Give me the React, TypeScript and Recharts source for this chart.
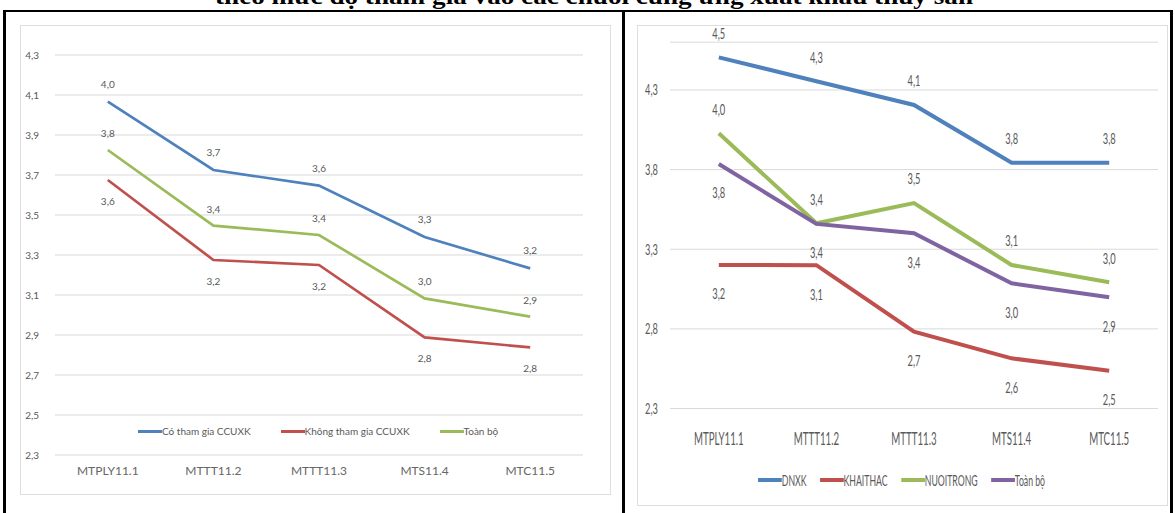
import React from 'react';
import { LineChart, Line, XAxis, YAxis, CartesianGrid, Legend, LabelList } from 'recharts';

// ---------- data ----------
const categories = ['MTPLY11.1', 'MTTT11.2', 'MTTT11.3', 'MTS11.4', 'MTC11.5'];

// Left panel
const leftNames = ['Có tham gia CCUXK', 'Không tham gia CCUXK', 'Toàn bộ'];
const leftParticipating = [4.067, 3.725, 3.647, 3.39, 3.233];
const leftParticipatingLabels = ['4,0', '3,7', '3,6', '3,3', '3,2'];
const leftNonParticipating = [3.675, 3.275, 3.25, 2.888, 2.838];
const leftNonParticipatingLabels = ['3,6', '3,2', '3,2', '2,8', '2,8'];
const leftOverall = [3.825, 3.447, 3.4, 3.083, 2.992];
const leftOverallLabels = ['3,8', '3,4', '3,4', '3,0', '2,9'];
const leftTicks = [2.3, 2.5, 2.7, 2.9, 3.1, 3.3, 3.5, 3.7, 3.9, 4.1, 4.3];

// Right panel
const rightNames = ['DNXK', 'KHAITHAC', 'NUOITRONG', 'Toàn bộ'];
const dnxk = [4.505, 4.355, 4.206, 3.843, 3.843];
const dnxkLabels = ['4,5', '4,3', '4,1', '3,8', '3,8'];
const khaithac = [3.201, 3.2, 2.782, 2.615, 2.537];
const khaithacLabels = ['3,2', '3,1', '2,7', '2,6', '2,5'];
const nuoitrong = [4.028, 3.463, 3.59, 3.201, 3.093];
const nuoitrongLabels = ['4,0', '3,4', '3,5', '3,1', '3,0'];
const rightOverall = [3.835, 3.459, 3.4, 3.086, 2.998];
const rightOverallLabels = ['3,8', '3,4', '3,4', '3,0', '2,9'];
const rightTicks = [2.3, 2.8, 3.3, 3.8, 4.3];

const title = 'theo mức độ tham gia vào các chuỗi cung ứng xuất khẩu thủy sản';

// ---------- styles ----------
const BLUE = '#4F81BD';
const RED = '#C0504D';
const GREEN = '#9BBB59';
const PURPLE = '#8064A2';
const TXT = '#595959';
const GRID = '#d9d9d9';
const FONT = 'Lato, "Open Sans", sans-serif';

const leftColors = [BLUE, RED, GREEN];
const rightColors = [BLUE, RED, GREEN, PURPLE];

const leftData = categories.map((cat, i) => ({
  cat,
  a: leftParticipating[i],
  aL: leftParticipatingLabels[i],
  b: leftNonParticipating[i],
  bL: leftNonParticipatingLabels[i],
  c: leftOverall[i],
  cL: leftOverallLabels[i],
}));

const rightData = categories.map((cat, i) => ({
  cat,
  a: dnxk[i],
  aL: dnxkLabels[i],
  b: khaithac[i],
  bL: khaithacLabels[i],
  c: nuoitrong[i],
  cL: nuoitrongLabels[i],
  d: rightOverall[i],
  dL: rightOverallLabels[i],
}));

const fmt = (v: number) => v.toFixed(1).replace('.', ',');

// ---------- text helpers ----------
const SText = (p: { x: number; y: number; s: number; size: number; anchor?: string; fill?: string; children: any }) => (
  <text
    transform={`translate(${p.x} ${p.y}) scale(${p.s} 1)`}
    x={0}
    y={0}
    textAnchor={(p.anchor as any) || 'middle'}
    dominantBaseline="central"
    fill={p.fill || TXT}
    fontSize={p.size}
    fontFamily={FONT}
  >
    {p.children}
  </text>
);

const makeLabel = (dy: number, size: number, s: number) => (props: any) => {
  const { x, y, value } = props;
  if (x == null || y == null) return null;
  return (
    <SText x={x} y={y + dy} s={s} size={size}>
      {value}
    </SText>
  );
};

// Left ticks
const LeftYTick = (props: any) => (
  <SText x={props.x - 16} y={props.y} s={1} size={10} anchor="end">
    {fmt(props.payload.value)}
  </SText>
);
const LeftXTick = (props: any) => (
  <SText x={props.x} y={props.y + 15} s={1} size={12} fill="#666666">
    {props.payload.value}
  </SText>
);
// Right ticks
const RightYTick = (props: any) => (
  <SText x={props.x - 12} y={props.y} s={0.62} size={15} anchor="end">
    {fmt(props.payload.value)}
  </SText>
);
const RightXTick = (props: any) => (
  <SText x={props.x} y={props.y + 29.5} s={0.57} size={17}>
    {props.payload.value}
  </SText>
);

const LeftLegend = () => (
  <div style={{ display: 'flex', alignItems: 'center', fontFamily: FONT, fontSize: 10, color: TXT, whiteSpace: 'nowrap' }}>
    {leftNames.map((n, i) => (
      <div key={n} style={{ display: 'flex', alignItems: 'center', marginRight: 30 }}>
        <span style={{ display: 'inline-block', width: 24, height: 3, background: leftColors[i] }} />
        <span>{n}</span>
      </div>
    ))}
  </div>
);

const RightLegend = () => (
  <div
    style={{
      display: 'flex',
      alignItems: 'center',
      fontFamily: FONT,
      fontSize: 15,
      color: TXT,
      whiteSpace: 'nowrap',
      transform: 'scaleX(0.58)',
      transformOrigin: 'left center',
    }}
  >
    {rightNames.map((n, i) => (
      <div key={n} style={{ display: 'flex', alignItems: 'center', marginRight: 23 }}>
        <span style={{ display: 'inline-block', width: 41, height: 4, background: rightColors[i] }} />
        <span>{n}</span>
      </div>
    ))}
  </div>
);

const lineStyle = { position: 'absolute' as const, background: '#000' };

export default function App() {
  return (
    <div style={{ position: 'absolute', left: 0, top: 0, width: 1175, height: 513, background: '#fff', overflow: 'hidden' }}>
      {/* title (cut at top, as in the source page) */}
      <svg width={1175} height={12} style={{ position: 'absolute', left: 0, top: 0 }}>
        <text
          x={215}
          y={3.5}
          fontFamily='"Liberation Serif", "Times New Roman", serif'
          fontWeight="bold"
          fontSize={24}
          textLength={758}
          lengthAdjust="spacingAndGlyphs"
          fill="#000"
        >
          {title}
        </text>
      </svg>

      {/* table borders */}
      <div style={{ ...lineStyle, left: 3, top: 9.5, width: 1170, height: 2.5 }} />
      <div style={{ ...lineStyle, left: 3, top: 9.5, width: 3, height: 504 }} />
      <div style={{ ...lineStyle, left: 622, top: 9.5, width: 3, height: 504 }} />
      <div style={{ ...lineStyle, left: 1170, top: 9.5, width: 3, height: 504 }} />

      {/* chart boxes */}
      <div style={{ position: 'absolute', left: 20, top: 25, width: 591, height: 470, border: '1px solid #dedede', boxSizing: 'border-box' }} />
      <div style={{ position: 'absolute', left: 637, top: 25, width: 531, height: 481, border: '1px solid #dedede', boxSizing: 'border-box' }} />

      {/* left chart */}
      <div style={{ position: 'absolute', left: 20, top: 25 }}>
        <LineChart width={591} height={470} data={leftData} margin={{ top: 30, right: 28, bottom: 10, left: 0 }}>
          <CartesianGrid vertical={false} stroke={GRID} />
          <XAxis
            dataKey="cat"
            scale="band"
            axisLine={false}
            tickLine={false}
            tickSize={0}
            tickMargin={0}
            height={30}
            tick={LeftXTick}
            interval={0}
          />
          <YAxis
            domain={[2.3, 4.3]}
            ticks={leftTicks}
            axisLine={false}
            tickLine={false}
            tickSize={0}
            tickMargin={0}
            width={35}
            tick={LeftYTick}
            interval={0}
          />
          <Line dataKey="a" stroke={BLUE} strokeWidth={2.7} dot={false} isAnimationActive={false}>
            <LabelList dataKey="aL" content={makeLabel(-18, 10, 1)} />
          </Line>
          <Line dataKey="b" stroke={RED} strokeWidth={2.7} dot={false} isAnimationActive={false}>
            <LabelList dataKey="bL" content={makeLabel(21, 10, 1)} />
          </Line>
          <Line dataKey="c" stroke={GREEN} strokeWidth={2.7} dot={false} isAnimationActive={false}>
            <LabelList dataKey="cL" content={makeLabel(-17, 10, 1)} />
          </Line>
          <Legend
            layout="horizontal"
            verticalAlign="middle"
            align="center"
            wrapperStyle={{ top: 400, left: 118, width: 460 }}
            content={LeftLegend}
          />
        </LineChart>
      </div>

      {/* right chart */}
      <div style={{ position: 'absolute', left: 637, top: 25 }}>
        <LineChart width={531} height={481} data={rightData} margin={{ top: 17.19, right: 10, bottom: 57.5, left: 0 }}>
          <CartesianGrid vertical={false} stroke={GRID} />
          <XAxis
            dataKey="cat"
            scale="band"
            axisLine={false}
            tickLine={false}
            tickSize={0}
            tickMargin={0}
            height={40}
            tick={RightXTick}
            interval={0}
          />
          <YAxis
            domain={[2.3, 4.6]}
            ticks={rightTicks}
            axisLine={false}
            tickLine={false}
            tickSize={0}
            tickMargin={0}
            width={33}
            tick={RightYTick}
            interval={0}
          />
          <Line dataKey="a" stroke={BLUE} strokeWidth={4} dot={false} isAnimationActive={false}>
            <LabelList dataKey="aL" content={makeLabel(-24, 15, 0.62)} />
          </Line>
          <Line dataKey="b" stroke={RED} strokeWidth={4} dot={false} isAnimationActive={false}>
            <LabelList dataKey="bL" content={makeLabel(29, 15, 0.62)} />
          </Line>
          <Line dataKey="c" stroke={GREEN} strokeWidth={4} dot={false} isAnimationActive={false}>
            <LabelList dataKey="cL" content={makeLabel(-24, 15, 0.62)} />
          </Line>
          <Line dataKey="d" stroke={PURPLE} strokeWidth={4} dot={false} isAnimationActive={false}>
            <LabelList dataKey="dL" content={makeLabel(29, 15, 0.62)} />
          </Line>
          <Legend
            layout="horizontal"
            verticalAlign="middle"
            align="center"
            wrapperStyle={{ top: 446, left: 121, width: 400 }}
            content={RightLegend}
          />
        </LineChart>
      </div>
    </div>
  );
}
